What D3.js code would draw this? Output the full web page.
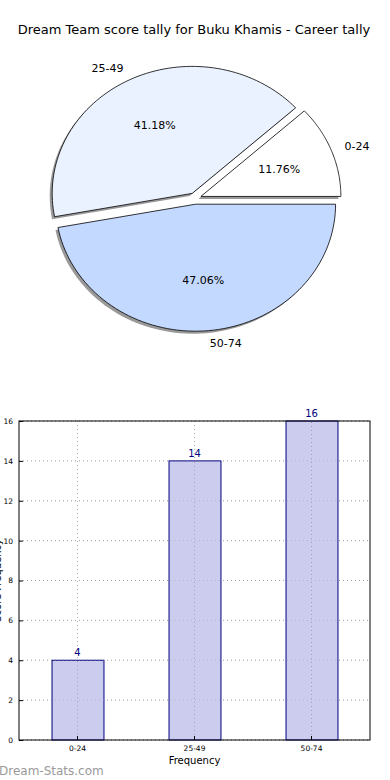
<!DOCTYPE html>
<html><head><meta charset="utf-8">
<script src="https://cdn.jsdelivr.net/npm/d3@7"></script>
<style>html,body{margin:0;padding:0;background:#fff;} svg{display:block;font-family:"DejaVu Sans",sans-serif;}</style>
</head><body>
<script>
const title = "Dream Team score tally for Buku Khamis - Career tally";
const categories = ["0-24", "25-49", "50-74"];
const counts = [4, 14, 16];
const pieColors = ["#ffffff", "#ebf2ff", "#c4d9ff"];
const yTicks = [0, 2, 4, 6, 8, 10, 12, 14, 16];
const xLabel = "Frequency";
const yLabel = "Score Frequency";
const watermark = "Dream-Stats.com";

const W = 390, H = 780;
const svg = d3.select("body").append("svg").attr("width", W).attr("height", H);

svg.append("text").attr("x", 194).attr("y", 34).attr("text-anchor", "middle")
  .attr("font-size", 13).attr("fill", "#000").text(title);

// ---- Pie (elliptical, matplotlib style, start at 0deg counterclockwise)
const cx = 195, cy = 198.5, rx = 140, ry = 127, explode = 0.045;
const total = d3.sum(counts);
const angScale = d3.scaleLinear().domain([0, total]).range([0, 2 * Math.PI]);
let acc = 0;
const slices = counts.map((v, i) => {
  const a0 = angScale(acc); acc += v; const a1 = angScale(acc);
  return {v, i, a0, a1, mid: (a0 + a1) / 2};
});
function wedgePath(s, ox, oy) {
  const n = 80;
  const pts = [[ox, oy]];
  for (let k = 0; k <= n; k++) {
    const a = s.a0 + (s.a1 - s.a0) * k / n;
    pts.push([ox + rx * Math.cos(a), oy - ry * Math.sin(a)]);
  }
  return d3.line()(pts) + "Z";
}
const pieG = svg.append("g");
slices.forEach(s => {
  const ox = cx + explode * rx * Math.cos(s.mid);
  const oy = cy - explode * ry * Math.sin(s.mid);
  s.ox = ox; s.oy = oy;
  pieG.append("path").attr("d", wedgePath(s, ox - 2.5, oy + 2.5))
    .attr("fill", "#000").attr("fill-opacity", 0.4).attr("stroke", "none");
});
slices.forEach(s => {
  pieG.append("path").attr("d", wedgePath(s, s.ox, s.oy))
    .attr("fill", pieColors[s.i]).attr("stroke", "#000").attr("stroke-width", 0.8)
    .attr("stroke-linejoin", "round");
});
slices.forEach(s => {
  const c = Math.cos(s.mid), sn = Math.sin(s.mid);
  const lx = s.ox + 1.1 * rx * c, ly = s.oy - 1.1 * ry * sn;
  svg.append("text").attr("x", lx).attr("y", ly).attr("dy", "0.35em")
    .attr("text-anchor", c >= 0 ? "start" : "end").attr("font-size", 11).attr("fill", "#000")
    .text(categories[s.i]);
  const px = s.ox + 0.6 * rx * c, py = s.oy - 0.6 * ry * sn;
  svg.append("text").attr("x", px).attr("y", py).attr("dy", "0.35em")
    .attr("text-anchor", "middle").attr("font-size", 11).attr("fill", "#000")
    .text((s.v / total * 100).toFixed(2) + "%");
});

// ---- Bar chart
const L = 19, R = 370, T = 421, B = 740;
const x = d3.scaleBand().domain(categories).range([L, R]).paddingInner(0.556).paddingOuter(0.278);
const y = d3.scaleLinear().domain([0, 16]).range([B, T]);
const g = svg.append("g");

// grid
g.selectAll(".hg").data(yTicks).enter().append("line")
  .attr("x1", L).attr("x2", R).attr("y1", d => y(d)).attr("y2", d => y(d))
  .attr("stroke", "#b0b0b0").attr("stroke-width", 1).attr("stroke-dasharray", "1,3");
g.selectAll(".vg").data(categories).enter().append("line")
  .attr("x1", d => x(d) + x.bandwidth() / 2).attr("x2", d => x(d) + x.bandwidth() / 2)
  .attr("y1", T).attr("y2", B)
  .attr("stroke", "#b0b0b0").attr("stroke-width", 1).attr("stroke-dasharray", "1,3");

// bars
g.selectAll(".bar").data(counts).enter().append("rect")
  .attr("x", (d, i) => x(categories[i]) + 0.5).attr("width", x.bandwidth())
  .attr("y", d => y(d)).attr("height", d => B - y(d))
  .attr("fill", "#ccccee").attr("fill-opacity", 1).attr("stroke", "#000080").attr("stroke-width", 1);
g.selectAll(".vg2").data(categories).enter().append("line")
  .attr("x1", d => x(d) + x.bandwidth() / 2).attr("x2", d => x(d) + x.bandwidth() / 2)
  .attr("y1", (d, i) => y(counts[i]) + 1).attr("y2", B)
  .attr("stroke", "#a0a0b0").attr("stroke-width", 1).attr("stroke-dasharray", "1,3");
g.selectAll(".hg2").data(yTicks).enter().append("line")
  .attr("x1", L).attr("x2", R).attr("y1", d => y(d)).attr("y2", d => y(d))
  .attr("stroke", "#a0a0b0").attr("stroke-width", 1).attr("stroke-dasharray", "1,3")
  .attr("stroke-opacity", 0.5);

// value labels
g.selectAll(".vl").data(counts).enter().append("text")
  .attr("x", (d, i) => x(categories[i]) + x.bandwidth() / 2).attr("y", d => y(d) - 4)
  .attr("text-anchor", "middle").attr("font-size", 10).attr("fill", "#000080").text(d => d);

// axes
const yAxis = d3.axisLeft(y).tickValues(yTicks).tickSizeInner(-4).tickSizeOuter(0).tickPadding(6);
const ya = svg.append("g").attr("transform", `translate(${L},0)`).call(yAxis);
ya.select(".domain").remove();
ya.selectAll("text").attr("font-size", 7.5).attr("font-family", "DejaVu Sans, sans-serif");
const xAxis = d3.axisBottom(x).tickSizeInner(-4).tickSizeOuter(0).tickPadding(6);
const xa = svg.append("g").attr("transform", `translate(0,${B})`).call(xAxis);
xa.select(".domain").remove();
xa.selectAll("text").attr("font-size", 7.5).attr("font-family", "DejaVu Sans, sans-serif");

svg.append("rect").attr("x", L).attr("y", T).attr("width", R - L).attr("height", B - T)
  .attr("fill", "none").attr("stroke", "#000").attr("stroke-width", 1);

svg.append("text").attr("x", (L + R) / 2).attr("y", 764).attr("text-anchor", "middle")
  .attr("font-size", 10).attr("fill", "#000").text(xLabel);
svg.append("text").attr("transform", `translate(0.5,${(T + B) / 2}) rotate(-90)`)
  .attr("text-anchor", "middle").attr("font-size", 10).attr("fill", "#000").text(yLabel);

svg.append("text").attr("x", -1).attr("y", 775).attr("font-size", 12)
  .attr("fill", "#9a9a9a").text(watermark);
</script>
</body></html>
